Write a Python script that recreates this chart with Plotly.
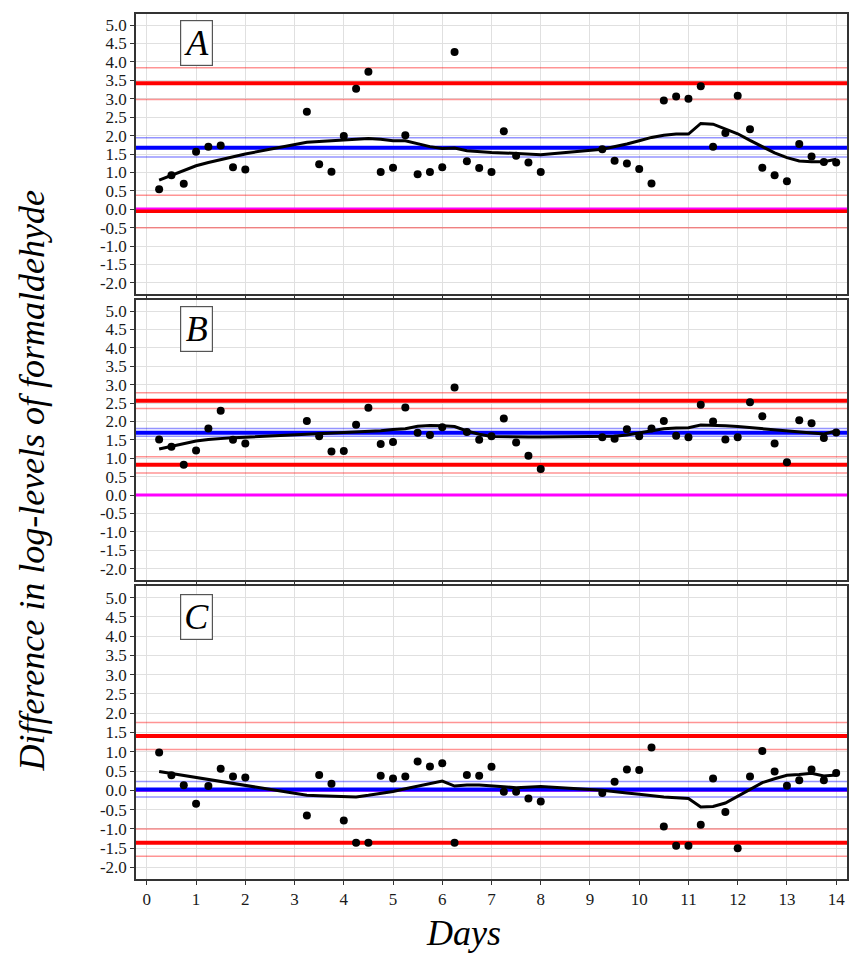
import plotly.graph_objects as go

days = [0.25, 0.5, 0.75, 1.0, 1.25, 1.5, 1.75, 2.0,
        3.25, 3.5, 3.75, 4.0, 4.25, 4.5, 4.75, 5.0, 5.25, 5.5, 5.75, 6.0,
        6.25, 6.5, 6.75, 7.0, 7.25, 7.5, 7.75, 8.0,
        9.25, 9.5, 9.75, 10.0, 10.25, 10.5, 10.75, 11.0, 11.25, 11.5, 11.75, 12.0,
        12.25, 12.5, 12.75, 13.0, 13.25, 13.5, 13.75, 14.0]

diff_A = [0.54, 0.92, 0.69, 1.56, 1.70, 1.73, 1.14, 1.08,
          2.65, 1.22, 1.02, 1.99, 3.27, 3.73, 1.01, 1.13, 2.01, 0.95, 1.01, 1.14,
          4.27, 1.30, 1.12, 1.01, 2.12, 1.45, 1.27, 1.01,
          1.63, 1.32, 1.24, 1.09, 0.70, 2.95, 3.06, 3.00, 3.34, 1.70, 2.07, 3.08,
          2.17, 1.13, 0.92, 0.76, 1.77, 1.43, 1.28, 1.27]
smooth_A = [0.79, 0.92, 1.06, 1.18, 1.27, 1.35, 1.43, 1.50,
            1.82, 1.84, 1.86, 1.87, 1.91, 1.92, 1.90, 1.86, 1.86, 1.78, 1.70, 1.65,
            1.66, 1.59, 1.56, 1.54, 1.53, 1.51, 1.50, 1.48,
            1.63, 1.69, 1.77, 1.86, 1.95, 2.01, 2.04, 2.04, 2.33, 2.31, 2.19, 2.05,
            1.87, 1.69, 1.53, 1.40, 1.31, 1.29, 1.29, 1.36]

diff_B = [1.51, 1.31, 0.82, 1.21, 1.81, 2.29, 1.50, 1.40,
          2.01, 1.60, 1.18, 1.20, 1.91, 2.37, 1.39, 1.44, 2.38, 1.69, 1.63, 1.84,
          2.92, 1.71, 1.50, 1.60, 2.08, 1.43, 1.07, 0.71,
          1.57, 1.53, 1.79, 1.60, 1.81, 2.01, 1.61, 1.57, 2.45, 2.00, 1.51, 1.57,
          2.52, 2.14, 1.40, 0.89, 2.03, 1.95, 1.55, 1.70]
smooth_B = [1.25, 1.33, 1.40, 1.47, 1.51, 1.54, 1.56, 1.57,
            1.65, 1.66, 1.68, 1.69, 1.71, 1.73, 1.75, 1.78, 1.80, 1.87, 1.89, 1.88,
            1.86, 1.74, 1.65, 1.59, 1.58, 1.58, 1.58, 1.58,
            1.58, 1.60, 1.63, 1.69, 1.75, 1.80, 1.82, 1.83, 1.90, 1.90, 1.88, 1.86,
            1.83, 1.81, 1.78, 1.75, 1.72, 1.69, 1.66, 1.74]

diff_C = [0.98, 0.39, 0.13, -0.35, 0.11, 0.56, 0.36, 0.33,
          -0.65, 0.40, 0.17, -0.78, -1.36, -1.36, 0.38, 0.31, 0.36, 0.75, 0.62, 0.70,
          -1.36, 0.40, 0.38, 0.61, -0.04, -0.04, -0.21, -0.29,
          -0.07, 0.22, 0.54, 0.53, 1.11, -0.94, -1.44, -1.44, -0.89, 0.31, -0.56, -1.50,
          0.36, 1.02, 0.49, 0.12, 0.26, 0.54, 0.26, 0.45]
smooth_C = [0.49, 0.44, 0.38, 0.33, 0.28, 0.23, 0.18, 0.13,
            -0.13, -0.14, -0.15, -0.16, -0.17, -0.13, -0.08, -0.03, 0.04, 0.11, 0.17, 0.24,
            0.11, 0.14, 0.14, 0.11, 0.09, 0.07, 0.08, 0.10,
            0.00, -0.04, -0.07, -0.10, -0.14, -0.17, -0.19, -0.21, -0.43, -0.42, -0.33, -0.15,
            0.04, 0.20, 0.30, 0.39, 0.41, 0.44, 0.37, 0.40]

# reference lines per panel
lines_A = {"bias": 1.67, "bias_ci": [1.42, 1.94], "loa": [3.42, -0.05],
           "loa_ci": [2.98, 3.84, -0.50, 0.38]}
lines_B = {"bias": 1.69, "bias_ci": [1.60, 1.81], "loa": [2.56, 0.82],
           "loa_ci": [2.35, 2.78, 0.60, 1.04]}
lines_C = {"bias": 0.02, "bias_ci": [-0.17, 0.23], "loa": [1.41, -1.36],
           "loa_ci": [1.06, 1.76, -1.71, -1.00]}
zero_line = 0.0

panel_labels = ["A", "B", "C"]
x_range = [-0.22, 14.22]
y_range = [-2.3, 5.3]
x_tick_vals = list(range(0, 15))
x_tick_text = [str(v) for v in x_tick_vals]
y_tick_vals = [-2.0, -1.5, -1.0, -0.5, 0.0, 0.5, 1.0, 1.5, 2.0, 2.5, 3.0, 3.5, 4.0, 4.5, 5.0]
y_tick_text = ["-2.0", "-1.5", "-1.0", "-0.5", "0.0", "0.5", "1.0", "1.5", "2.0",
               "2.5", "3.0", "3.5", "4.0", "4.5", "5.0"]

SERIF = "Liberation Serif, Times New Roman, serif"
domains = [[0.6763, 1.0], [0.346, 0.6694], [0.0, 0.3387]]
panels = [(diff_A, smooth_A, lines_A),
          (diff_B, smooth_B, lines_B),
          (diff_C, smooth_C, lines_C)]

fig = go.Figure()
annotations = []

for i, (diff, smooth, ln) in enumerate(panels):
    n = "" if i == 0 else str(i + 1)
    xa, ya = "x" + n, "y" + n

    def hline(y, color, width):
        fig.add_trace(go.Scatter(x=x_range, y=[y, y], mode="lines", xaxis=xa, yaxis=ya,
                                 line=dict(color=color, width=width),
                                 hoverinfo="skip", showlegend=False))

    for v in ln["loa_ci"]:
        hline(v, "rgba(255,0,0,0.42)", 1.5)
    for v in ln["bias_ci"]:
        hline(v, "rgba(0,0,255,0.42)", 1.5)
    if i == 2:
        hline(zero_line, "#ff00ff", 3)
    for v in ln["loa"]:
        hline(v, "#ff0000", 4)
    hline(ln["bias"], "#0000ff", 4)
    if i == 0:
        hline(zero_line + 0.02, "#ff00ff", 2)
    if i == 1:
        hline(zero_line, "#ff00ff", 3)

    fig.add_trace(go.Scatter(x=days, y=smooth, mode="lines", xaxis=xa, yaxis=ya,
                             line=dict(color="black", width=3), showlegend=False))
    fig.add_trace(go.Scatter(x=days, y=diff, mode="markers", xaxis=xa, yaxis=ya,
                             marker=dict(color="black", size=8), showlegend=False))

    annotations.append(dict(text="<i>" + panel_labels[i] + "</i>", x=1.0, y=4.5,
                            xref=xa, yref=ya, showarrow=False,
                            font=dict(family=SERIF, size=36, color="black"),
                            bordercolor="#555555", borderwidth=1.2, borderpad=0,
                            bgcolor="white", width=31, height=44))

    axis_common = dict(showgrid=True, gridcolor="#e0e0e0", gridwidth=1.4,
                       showline=True, mirror=True, linecolor="#333333", linewidth=1.5,
                       ticks="outside", ticklen=4, tickcolor="#333333", zeroline=False,
                       tickfont=dict(family=SERIF, size=17, color="#1a1a1a"))
    fig.layout["xaxis" + n] = dict(axis_common, domain=[0, 1], range=x_range,
                                   tickvals=x_tick_vals, ticktext=x_tick_text,
                                   showticklabels=(i == 2), anchor=ya)
    fig.layout["yaxis" + n] = dict(axis_common, domain=domains[i], range=y_range,
                                   tickvals=y_tick_vals, ticktext=y_tick_text, anchor=xa)

annotations.append(dict(text="<i>Difference in log-levels of formaldehyde</i>",
                        xref="paper", yref="paper", x=-0.146, y=0.461, textangle=-90,
                        showarrow=False, xanchor="center", yanchor="middle",
                        font=dict(family=SERIF, size=36, color="black")))
annotations.append(dict(text="<i>Days</i>", xref="paper", yref="paper", x=0.461, y=-0.063,
                        showarrow=False, xanchor="center", yanchor="middle",
                        font=dict(family=SERIF, size=36, color="black")))

fig.update_layout(width=852, height=956, margin=dict(l=136, r=3, t=14, b=77),
                  plot_bgcolor="white", paper_bgcolor="white",
                  annotations=annotations, showlegend=False,
                  font=dict(family=SERIF))

fig.write_html("out.html", config={"displayModeBar": False},
               post_script="document.body.style.margin='0';document.body.style.overflow='hidden';")
